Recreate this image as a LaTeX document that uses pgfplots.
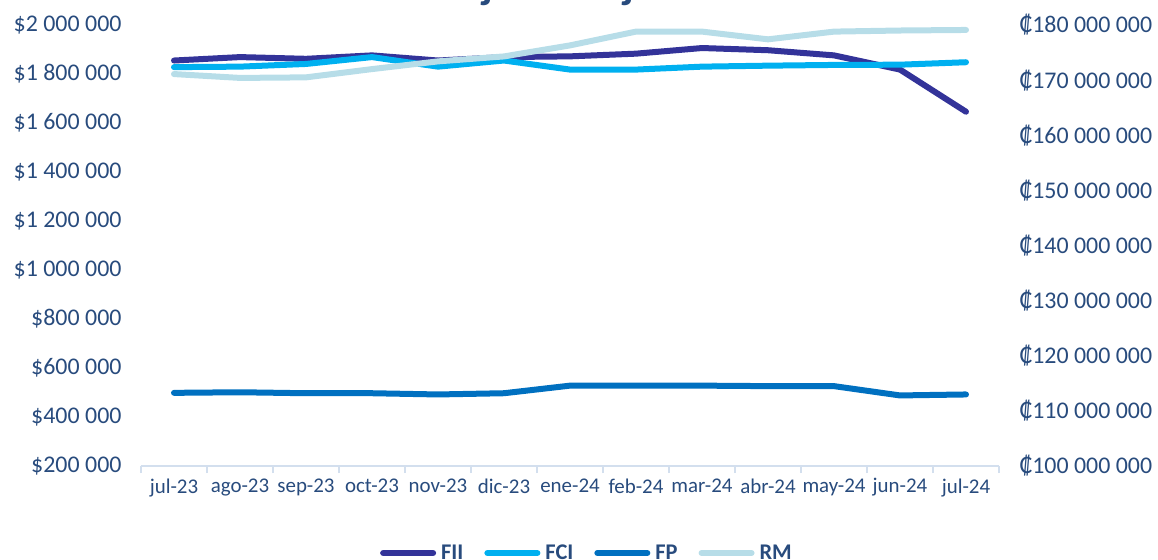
\documentclass[border=0pt]{standalone}
\usepackage{fontspec}
\setmainfont{Carlito}
\usepackage{pgfplots}
\pgfplotsset{compat=1.18}
\definecolor{textcol}{HTML}{284B7D}
\definecolor{axiscol}{HTML}{D3DFEE}
\definecolor{cFII}{HTML}{333399}
\definecolor{cFCI}{HTML}{00B0F0}
\definecolor{cFP}{HTML}{0070C0}
\definecolor{cRM}{HTML}{B7DDE8}
\begin{document}
\begin{tikzpicture}
\pgfplotsset{
  base/.style={
    at={(0,0)}, anchor=south west,
    scale only axis, width=858bp, height=441bp,
    xmin=-0.5, xmax=12.5,
    scaled y ticks=false, scaled x ticks=false,
    ticklabel style={text=textcol},
    yticklabel style={font=\fontsize{24}{28}\selectfont},
    every axis plot/.append style={line width=6bp, line cap=round, line join=round},
  }
}
\begin{axis}[base,
  ymin=200000, ymax=2000000,
  axis x line*=bottom, axis y line*=left,
  x axis line style={draw=axiscol, line width=1.5bp, -},
  y axis line style={draw=none},
  xtick={0,...,12},
  xticklabels={jul-23,ago-23,sep-23,oct-23,nov-23,dic-23,ene-24,feb-24,mar-24,abr-24,may-24,jun-24,jul-24},
  xticklabel style={yshift=-9bp, font=\fontsize{21}{25}\selectfont},
  minor xtick={-0.5,0.5,...,12.5},
  major tick length=0pt, minor tick length=7bp,
  tick align=outside,
  minor tick style={draw=axiscol, line width=1.5bp},
  major tick style={draw=none},
  ytick={200000,400000,600000,800000,1000000,1200000,1400000,1600000,1800000,2000000},
  yticklabels={\$200 000,\$400 000,\$600 000,\$800 000,\$1 000 000,\$1 200 000,\$1 400 000,\$1 600 000,\$1 800 000,\$2 000 000},
  yticklabel style={xshift=-16bp},
  legend style={draw=none, fill=none, at={(axis description cs:0.5186,-0.1973)}, anchor=center,
    font=\bfseries\fontsize{22.5}{26}\selectfont, text=textcol,
    nodes={inner sep=0pt},
    /tikz/every odd column/.append style={column sep=5bp},
    /tikz/every even column/.append style={column sep=21bp}},
  legend columns=4,
  legend image code/.code={\draw[#1, line width=6bp, line cap=round] (3bp,0bp) -- (53bp,0bp);},
]
\addplot[color=cFII] coordinates {(0,1855000) (1,1869000) (2,1862000) (3,1876000) (4,1855000) (5,1869000) (6,1872000) (7,1883000) (8,1906000) (9,1897000) (10,1876000) (11,1818000) (12,1646000)};
\addlegendentry{FII}
\addplot[color=cFCI] coordinates {(0,1828000) (1,1830000) (2,1841000) (3,1869000) (4,1830000) (5,1855000) (6,1818000) (7,1818000) (8,1830000) (9,1834000) (10,1837000) (11,1838000) (12,1848000)};
\addlegendentry{FCI}
\addplot[color=cFP] coordinates {(0,498600) (1,501000) (2,497000) (3,497000) (4,492000) (5,497000) (6,528000) (7,528000) (8,528000) (9,526000) (10,526000) (11,488000) (12,492000)};
\addlegendentry{FP}
\addlegendimage{color=cRM}
\addlegendentry{RM}
\end{axis}
\begin{axis}[base,
  ymin=100000000, ymax=180000000,
  axis x line=none, axis y line*=right,
  y axis line style={draw=none},
  ytick style={draw=none},
  ytick={100000000,110000000,120000000,130000000,140000000,150000000,160000000,170000000,180000000},
  yticklabels={₡100 000 000,₡110 000 000,₡120 000 000,₡130 000 000,₡140 000 000,₡150 000 000,₡160 000 000,₡170 000 000,₡180 000 000},
  yticklabel style={xshift=17bp},
]
\addplot[color=cRM] coordinates {(0,171100000) (1,170400000) (2,170500000) (3,172000000) (4,173400000) (5,174300000) (6,176300000) (7,178800000) (8,178800000) (9,177400000) (10,178800000) (11,179000000) (12,179100000)};
\end{axis}
\node[anchor=base west, inner sep=0pt, font=\bfseries\fontsize{43}{43}\selectfont, text=textcol] at (341bp,467.5bp) {jul-23 – jul-24};
\pgfresetboundingbox
\path (-141bp,-94bp) rectangle (1017bp,466bp);
\end{tikzpicture}
\end{document}
